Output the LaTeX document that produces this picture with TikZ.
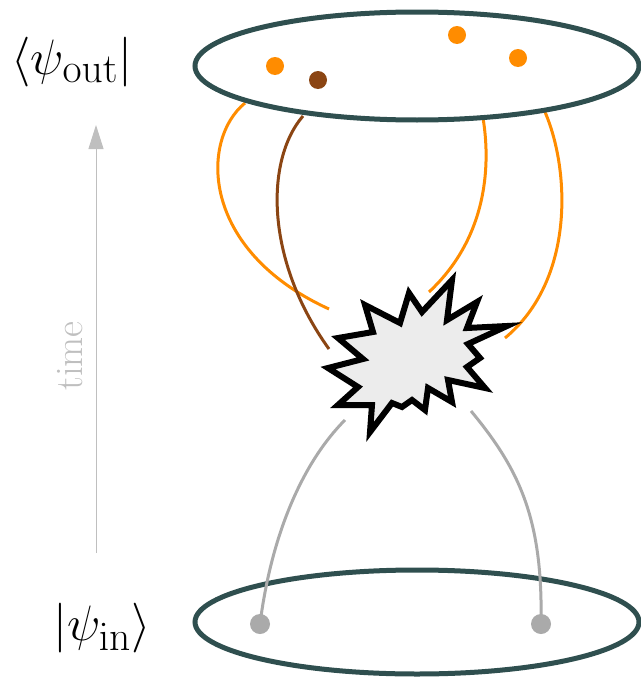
\documentclass[tikz,border=0pt]{standalone}
\usetikzlibrary{arrows.meta,shapes.geometric}
\definecolor{slate}{HTML}{2F4F4F}
\definecolor{dorange}{HTML}{FF8C00}
\definecolor{sbrown}{HTML}{8B4513}
\definecolor{lgray}{HTML}{AAAAAA}
\definecolor{tgray}{HTML}{BFBFBF}
\definecolor{boomfill}{HTML}{ECECEC}
\begin{document}
\begin{tikzpicture}[x=0.5pt,y=-0.5pt,
  ring/.style={draw=slate,line width=2.5pt,fill=white,ellipse,inner sep=0pt},
  orangeline/.style={draw=dorange,line width=1.5pt},
  brownline/.style={draw=sbrown,line width=1.5pt},
  grayline/.style={draw=lgray,line width=1.5pt},
  odot/.style={circle,fill=dorange,inner sep=0pt,minimum size=9pt},
  bdot/.style={circle,fill=sbrown,inner sep=0pt,minimum size=9pt},
  gdot/.style={circle,fill=lgray,inner sep=0pt,minimum size=10pt},
  lab/.style={font=\fontsize{29}{34}\selectfont}]
\useasboundingbox (0,0) rectangle (641,680);
% curve end points
\coordinate (a1) at (245,103); \coordinate (a2) at (329,309);
\coordinate (b1) at (303,116); \coordinate (b2) at (329,349);
\coordinate (c1) at (483,118); \coordinate (c2) at (429,292);
\coordinate (d1) at (545,112); \coordinate (d2) at (505,338);
\coordinate (e1) at (345,420); \coordinate (f1) at (471,411);
% outgoing curves
\draw[orangeline] (a1) .. controls (200,140) and (200,250) .. (a2);
\draw[brownline] (b1) .. controls (265,160) and (265,260) .. (b2);
\draw[orangeline] (c1) .. controls (490,160) and (490,235) .. (c2);
\draw[orangeline] (d1) .. controls (570,170) and (575,280) .. (d2);
% ellipses
\node[ring,minimum width=222pt,minimum height=54pt] (top) at (417,66) {};
\node[ring,minimum width=222pt,minimum height=52pt] (bot) at (417,622) {};
% dots
\node[odot] (o1) at (275,66) {};
\node[bdot] (br) at (318,80) {};
\node[odot] (o2) at (457,35) {};
\node[odot] (o3) at (518,58) {};
\node[gdot] (g1) at (260,624) {};
\node[gdot] (g2) at (541,624) {};
% incoming lines
\draw[grayline] (e1) .. controls (305,460) and (272,530) .. (g1.center);
\draw[grayline] (f1) .. controls (520,470) and (543,520) .. (g2.center);
% explosion
\draw[line width=3pt,fill=boomfill,line join=miter,miter limit=10]
  (452,280) -- (447,320) -- (477,302) -- (467,328) -- (507,326)
  -- (468,344) -- (480,358) -- (467,367) -- (485,388) -- (448,380)
  -- (452,402) -- (428,388) -- (425,410) -- (412,400) -- (402,407)
  -- (392,403) -- (370,432) -- (372,405) -- (338,405) -- (358,387)
  -- (328,368) -- (363,359) -- (338,338) -- (373,332) -- (365,305)
  -- (400,323) -- (409,293) -- (422,312) -- cycle;
% time arrow
\coordinate (t0) at (96,553); \coordinate (t1) at (96,125);
\draw[tgray,line width=0.5pt,-{Triangle[length=12pt,width=7.5pt]}] (t0) -- (t1);
\node[text=tgray,rotate=90,font=\fontsize{19.5}{23}\selectfont] (time) at (70,356) {time};
% labels
\node[lab] (out) at (72,62) {$\langle\psi_{\mathrm{out}}|$};
\node[lab] (in) at (102,628) {$|\psi_{\mathrm{in}}\rangle$};
\end{tikzpicture}
\end{document}
